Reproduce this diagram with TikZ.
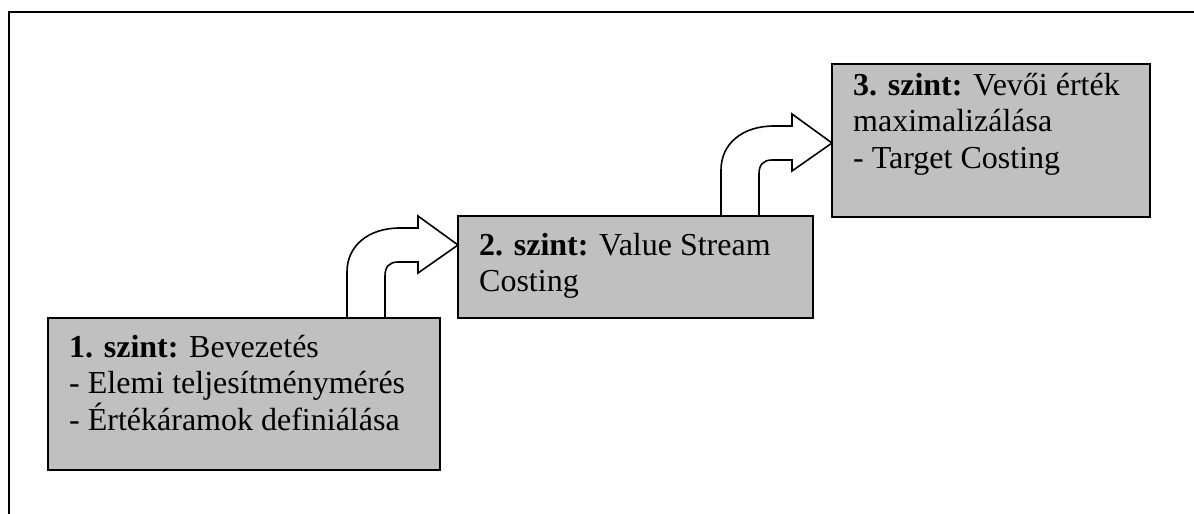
\documentclass[tikz,border=0pt]{standalone}
\usepackage{fontspec}
\setmainfont{Liberation Serif}
\begin{document}
\begin{tikzpicture}[x=1pt,y={(0pt,-1pt)},
  frame/.style={line width=1.6pt,black},
  level/.style={draw=black,line width=1.6pt,fill={rgb,255:red,192;green,192;blue,192},inner sep=0pt},
  leveltext/.style={anchor=base west,inner sep=0pt,align=left,font=\fontsize{32}{36.5}\selectfont},
  bentarrow/.style={draw=black,line width=1.6pt,fill=white,line join=miter}]
\useasboundingbox (0,0) rectangle (1194,514);
\draw[frame] (1194,12) -- (9,12) -- (9,514);
% bent arrows
\draw[bentarrow] (347,318) -- (347,272) .. controls (347,246) and (368,228) .. (400,228)
  -- (418,228) -- (418,216) -- (458,245) -- (418,273) -- (418,262) -- (398,262)
  .. controls (389,262) and (385,267) .. (385,276) -- (385,318) -- cycle;
\begin{scope}[shift={(374,-102)}]
\draw[bentarrow] (347,318) -- (347,272) .. controls (347,246) and (368,228) .. (400,228)
  -- (418,228) -- (418,216) -- (458,245) -- (418,273) -- (418,262) -- (398,262)
  .. controls (389,262) and (385,267) .. (385,276) -- (385,318) -- cycle;
\end{scope}
% boxes
\node[level,minimum width=392pt,minimum height=152pt] (b1) at (244,394) {};
\node[level,minimum width=355pt,minimum height=102pt] (b2) at (635.5,267) {};
\node[level,minimum width=318pt,minimum height=153pt] (b3) at (991,140.5) {};
% texts (anchored at the baseline of the last line)
\node[leveltext] (t1) at (69,430) {\textbf{1. szint:} Bevezetés\\- Elemi teljesítménymérés\\- Értékáramok definiálása};
\node[leveltext] (t2) at (479,291.5) {\textbf{2. szint:} Value Stream\\Costing};
\node[leveltext] (t3) at (853,168) {\textbf{3. szint:} Vevői érték\\maximalizálása\\- Target Costing};
\end{tikzpicture}
\end{document}
